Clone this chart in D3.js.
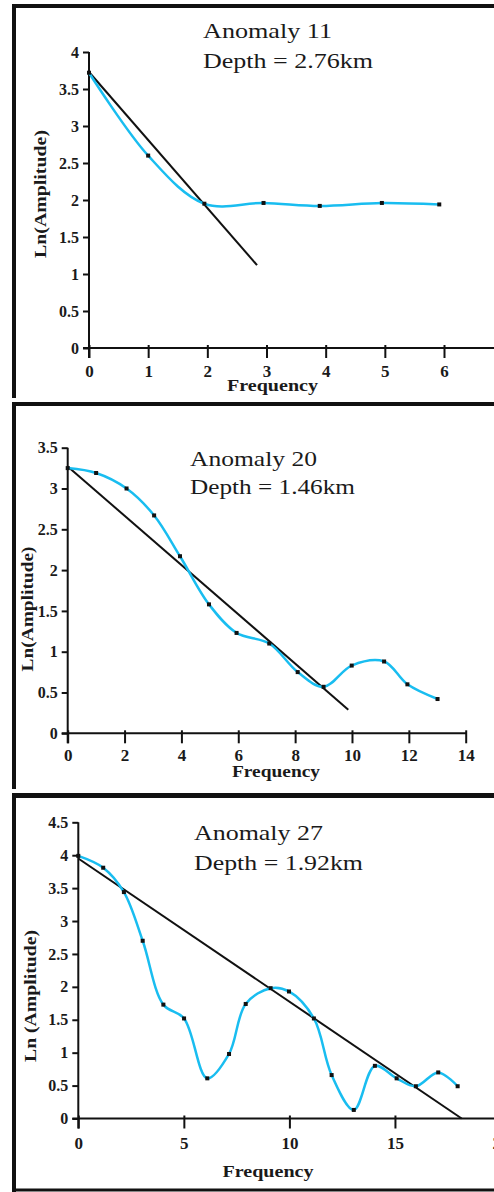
<!DOCTYPE html>
<html>
<head>
<meta charset="utf-8">
<script src="https://cdn.jsdelivr.net/npm/d3@7"></script>
<style>
  body { margin: 0; background: #fff; }
  svg { display: block; }
  text { font-family: "Liberation Serif", "Times New Roman", serif; fill: #1a1a1a; }
</style>
</head>
<body>
<div id="chart"></div>
<script>
'use strict';

// Anomaly 11
const freq11 = [0, 1, 1.95, 2.95, 3.9, 4.95, 5.92];
const amp11  = [3.72, 2.6, 1.95, 1.96, 1.92, 1.96, 1.94];
const fitX11 = [0, 2.84];
const fitY11 = [3.73, 1.12];
const xTicks11 = [0, 1, 2, 3, 4, 5, 6];
const yTicks11 = [0, 0.5, 1, 1.5, 2, 2.5, 3, 3.5, 4];

// Anomaly 20
const freq20 = [0, 1, 2.07, 3.04, 3.95, 4.97, 5.94, 7.09, 8.09, 9.0, 9.99, 11.13, 11.95, 13.01];
const amp20  = [3.25, 3.19, 3.0, 2.67, 2.17, 1.58, 1.23, 1.10, 0.75, 0.57, 0.83, 0.88, 0.60, 0.42];
const fitX20 = [0, 9.87];
const fitY20 = [3.27, 0.29];
const xTicks20 = [0, 2, 4, 6, 8, 10, 12, 14];
const yTicks20 = [0, 0.5, 1, 1.5, 2, 2.5, 3, 3.5];

// Anomaly 27
const freq27 = [0, 1.18, 2.16, 3.05, 4.03, 5.01, 6.11, 7.14, 7.93, 9.11, 9.98, 11.16, 12.0, 13.05, 14.05, 15.08, 15.99, 17.05, 17.97];
const amp27  = [3.99, 3.81, 3.44, 2.70, 1.73, 1.52, 0.61, 0.98, 1.74, 1.98, 1.93, 1.52, 0.66, 0.13, 0.80, 0.61, 0.49, 0.70, 0.49];
const fitX27 = [0, 18.16];
const fitY27 = [3.95, 0];
const xTicks27 = [0, 5, 10, 15, 20];
const yTicks27 = [0, 0.5, 1, 1.5, 2, 2.5, 3, 3.5, 4, 4.5];

const W = 494, H = 1192;
const blue = '#19bdf0';
const ink = '#111';

const svg = d3.select('#chart').append('svg').attr('width', W).attr('height', H);

//panel frames (page layout, not data)
function frameLine(x1, y1, x2, y2, w) {
  svg.append('line').attr('x1', x1).attr('y1', y1).attr('x2', x2).attr('y2', y2)
    .attr('stroke', ink).attr('stroke-width', w);
}
frameLine(12, 6, W, 6, 4);
frameLine(14, 4, 14, 398, 4);
frameLine(12, 404, W, 404, 4);
frameLine(14, 402, 14, 789, 4);
frameLine(12, 795.5, W, 795.5, 5);
frameLine(14, 793, 14, H, 4);
frameLine(12, 1190, W, 1190, 3);

const panels = [
  { freq: freq11, amp: amp11, fitX: fitX11, fitY: fitY11, xTicks: xTicks11, yTicks: yTicks11,
    title: 'Anomaly  11', depth: 'Depth = 2.76km', yLabel: 'Ln(Amplitude)',
    left: 89, right: 444, bottom: 348, top: 52, axisEnd: W,
    titleX: 203, titleY: 38, depthY: 68, titleLen: 129, depthLen: 170,
    yLabX: 46, yLabY: 194, yLabLen: 128, xLabX: 272.5, xLabY: 391, xLabLen: 91, xTickY: 377 },
  { freq: freq20, amp: amp20, fitX: fitX20, fitY: fitY20, xTicks: xTicks20, yTicks: yTicks20,
    title: 'Anomaly  20', depth: 'Depth = 1.46km', yLabel: 'Ln(Amplitude)',
    left: 67.7, right: 465.7, bottom: 733.3, top: 447.7, axisEnd: 467,
    titleX: 190, titleY: 465.7, depthY: 494.3, titleLen: 127, depthLen: 165,
    yLabX: 33, yLabY: 609, yLabLen: 125, xLabX: 276, xLabY: 776.5, xLabLen: 88, xTickY: 761 },
  { freq: freq27, amp: amp27, fitX: fitX27, fitY: fitY27, xTicks: xTicks27, yTicks: yTicks27,
    title: 'Anomaly  27', depth: 'Depth = 1.92km', yLabel: 'Ln (Amplitude)',
    left: 78.3, right: 500.5, bottom: 1118.5, top: 822.3, axisEnd: W,
    titleX: 194, titleY: 840, depthY: 870, titleLen: 129, depthLen: 169,
    yLabX: 36, yLabY: 996, yLabLen: 132, xLabX: 268, xLabY: 1177, xLabLen: 91, xTickY: 1149 }
];

panels.forEach(drawPanel);

function drawPanel(p) {
  const xMax = p.xTicks[p.xTicks.length - 1];
  const yMax = p.yTicks[p.yTicks.length - 1];
  const x = d3.scaleLinear().domain([0, xMax]).range([p.left, p.right]);
  const y = d3.scaleLinear().domain([0, yMax]).range([p.bottom, p.top]);
  const g = svg.append('g');

  //axis lines
  g.append('line').attr('x1', x(0) - 6).attr('x2', p.axisEnd).attr('y1', y(0)).attr('y2', y(0))
    .attr('stroke', ink).attr('stroke-width', 2);
  g.append('line').attr('x1', x(0)).attr('x2', x(0)).attr('y1', y(yMax)).attr('y2', y(0) + 10)
    .attr('stroke', ink).attr('stroke-width', 2);

  const xa = g.append('g').attr('transform', `translate(0,${y(0)})`)
    .call(d3.axisBottom(x).tickValues(p.xTicks).tickSize(10).tickFormat(d3.format('d')));
  xa.select('.domain').remove();
  xa.selectAll('.tick line').attr('y1', -3).attr('stroke', ink).attr('stroke-width', 2);
  xa.selectAll('.tick text').attr('y', p.xTickY - y(0)).attr('dy', null)
    .attr('font-size', 17).attr('font-weight', 'bold');

  const ya = g.append('g').attr('transform', `translate(${x(0)},0)`)
    .call(d3.axisLeft(y).tickValues(p.yTicks).tickSize(6).tickPadding(4).tickFormat(d => String(d)));
  ya.select('.domain').remove();
  ya.selectAll('.tick line').attr('stroke', ink).attr('stroke-width', 2);
  ya.selectAll('.tick text').attr('font-size', 16).attr('font-weight', 'bold');

  //labels
  g.append('text').attr('x', p.titleX).attr('y', p.titleY).attr('font-size', 22)
    .attr('textLength', p.titleLen).attr('lengthAdjust', 'spacingAndGlyphs').text(p.title);
  g.append('text').attr('x', p.titleX).attr('y', p.depthY).attr('font-size', 22)
    .attr('textLength', p.depthLen).attr('lengthAdjust', 'spacingAndGlyphs').text(p.depth);
  g.append('text').attr('x', p.xLabX).attr('y', p.xLabY).attr('text-anchor', 'middle')
    .attr('font-size', 17).attr('font-weight', 'bold')
    .attr('textLength', p.xLabLen).attr('lengthAdjust', 'spacingAndGlyphs').text('Frequency');
  g.append('text').attr('transform', `translate(${p.yLabX},${p.yLabY}) rotate(-90)`)
    .attr('text-anchor', 'middle').attr('font-size', 16).attr('font-weight', 'bold')
    .attr('textLength', p.yLabLen).attr('lengthAdjust', 'spacingAndGlyphs').text(p.yLabel);

  //fitted straight line
  const fit = p.fitX.map((v, i) => [v, p.fitY[i]]);
  const pts = p.freq.map((v, i) => [v, p.amp[i]]);
  const line = d3.line().x(d => x(d[0])).y(d => y(d[1]));
  g.append('path').attr('d', line(fit)).attr('fill', 'none').attr('stroke', ink).attr('stroke-width', 2);

  //smoothed spectrum
  g.append('path').attr('d', line.curve(d3.curveCatmullRom)(pts))
    .attr('fill', 'none').attr('stroke', blue).attr('stroke-width', 2.5);

  g.selectAll('rect.pt').data(pts).join('rect').attr('class', 'pt')
    .attr('x', d => x(d[0]) - 2).attr('y', d => y(d[1]) - 2)
    .attr('width', 4).attr('height', 4).attr('fill', ink);
}
</script>
</body>
</html>
